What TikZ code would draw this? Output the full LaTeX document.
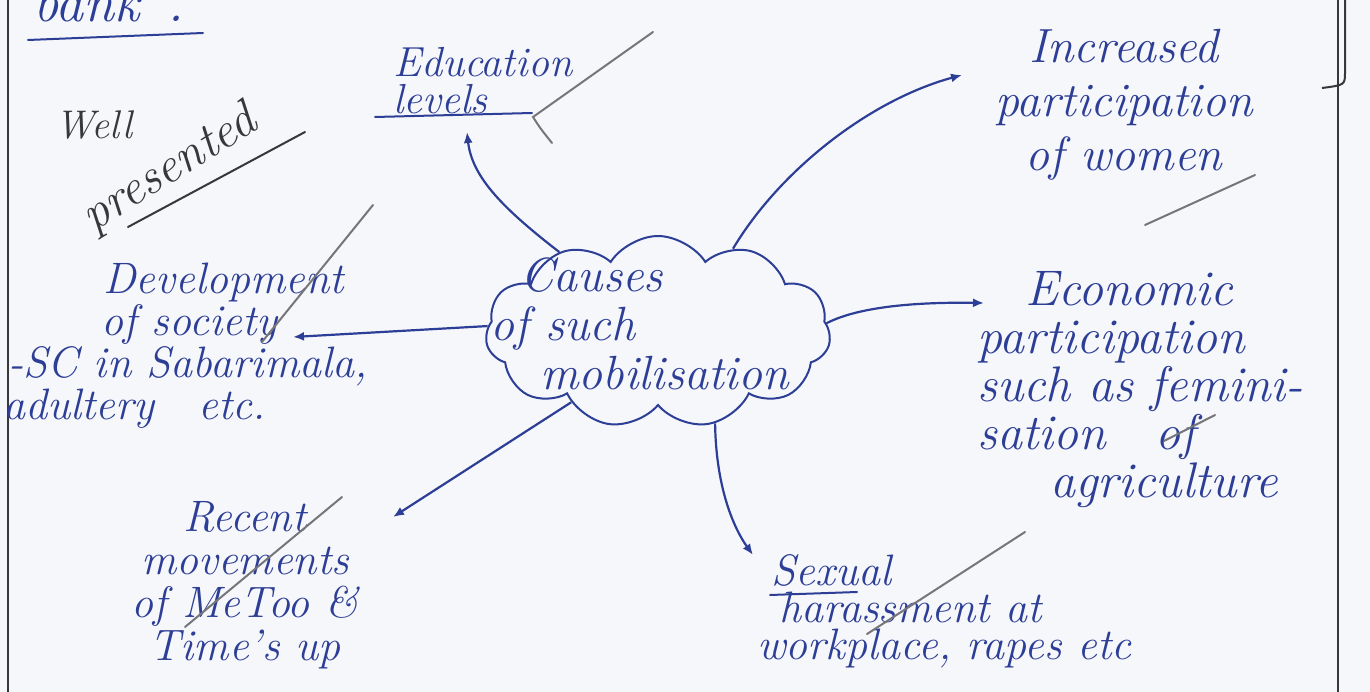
\documentclass[tikz,border=0pt]{standalone}
\usepackage{fontspec}
\usetikzlibrary{shapes.symbols,arrows.meta}
\definecolor{ink}{RGB}{45,62,150}
\definecolor{pencil}{RGB}{118,118,122}
\definecolor{pen}{RGB}{55,55,60}
\definecolor{paper}{RGB}{246,247,250}
\newcommand\handfont[2]{\fontsize{#1}{#2}\selectfont\itshape}
\tikzset{
  lbl/.style={text=ink, inner sep=0pt, align=left},
  link/.style={draw=ink, line width=2.2pt, -{Latex[length=11pt,width=9pt]}},
  pencilstroke/.style={draw=pencil, line width=2pt, line cap=round},
  penline/.style={draw=pen, line width=2pt},
  inkline/.style={draw=ink, line width=2pt, line cap=round},
}
\begin{document}
\begin{tikzpicture}[x=1pt,y=-1pt]
\fill[paper] (0,0) rectangle (1370,692);
\useasboundingbox (0,0) rectangle (1370,692);

% page margins
\draw[penline] (8,0) -- (8,692);
\draw[penline] (1338,0) -- (1338,692);
\draw[penline] (1345,0) -- (1345,72) .. controls (1345,85) .. (1322,88);

% heading remnant
\node[text=ink, font=\handfont{56}{56}, anchor=base west, inner sep=0pt] (bank) at (33,22) {bank\hspace{28pt}.};
\draw[inkline] (28,40) -- (203,33);

% grader's remark
\node[text=pen, font=\handfont{40}{40}, inner sep=0pt] (well) at (94,125) {Well};
\node[text=pen, font=\handfont{50}{50}, rotate=32, inner sep=0pt] (presented) at (170,170) {presented};
\draw[draw=pen, line width=2pt, line cap=round] (128,227) -- (305,132);

% central cloud
\node[cloud, cloud puffs=11, cloud puff arc=115, aspect=1.78,
      minimum width=345pt, minimum height=192pt,
      draw=ink, line width=2pt, inner sep=0pt] (cloud) at (658,332) {};
\node[lbl, font=\handfont{48}{49}, anchor=west] (causes) at (490,324)
  {\hspace*{30pt}Causes\\of such\\\hspace*{50pt}mobilisation};

% branch labels
\node[lbl, font=\handfont{42}{37}, anchor=west] (edu) at (393,81) {Education\\levels};
\node[lbl, align=center, font=\handfont{48}{54}] (inc) at (1124,105) {Increased\\participation\\of women};
\node[lbl, font=\handfont{50}{48}, anchor=west] (eco) at (977,390)
  {\hspace*{48pt}Economic\\participation\\such as femini-\\sation\quad of\\\hspace*{73pt}agriculture};
\node[lbl, font=\handfont{44}{42}, anchor=west] (dev) at (3,346)
  {\hspace*{100pt}Development\\\hspace*{98pt}of society\\\hspace*{5pt}-SC in Sabarimala,\\adultery\quad etc.};
\node[lbl, align=center, font=\handfont{44}{43}] (rec) at (245,585) {Recent\\movements\\of MeToo \&\\Time's up};
\node[lbl, font=\handfont{44}{37}, anchor=west] (sex) at (757,611)
  {\hspace*{14pt}Sexual\\\hspace*{22pt}harassment at\\workplace, rapes etc};

% arrow tips beside the labels
\coordinate (eduTip) at (467,132);
\coordinate (incTip) at (962,75);
\coordinate (ecoTip) at (984,303);
\coordinate (devTip) at (293,337);
\coordinate (recTip) at (393,517);
\coordinate (sexTip) at (753,555);

\draw[link] (cloud.141) .. controls (505,210) and (472,178) .. (eduTip);
\draw[link] (cloud.48) .. controls (780,170) and (870,100) .. (incTip);
\draw[link] (cloud.3) .. controls (860,306) and (920,302) .. (ecoTip);
\draw[link] (cloud.178) -- (devTip);
\draw[link] (cloud.219) -- (recTip);
\draw[link] (cloud.302) .. controls (716,490) and (735,530) .. (sexTip);

% underlines in ink
\draw[inkline] (375,117) -- (532,113);
\draw[inkline] (770,595) -- (857,592);

% pencil ticks
\draw[pencilstroke] (373,205) -- (262,342);
\draw[pencilstroke] (653,32) -- (533,117) .. controls (540,128) .. (552,143);
\draw[pencilstroke] (1145,225) -- (1255,175);
\draw[pencilstroke] (1164,441) -- (1215,415);
\draw[pencilstroke] (342,497) -- (185,627);
\draw[pencilstroke] (1025,532) -- (867,634);
\end{tikzpicture}
\end{document}
